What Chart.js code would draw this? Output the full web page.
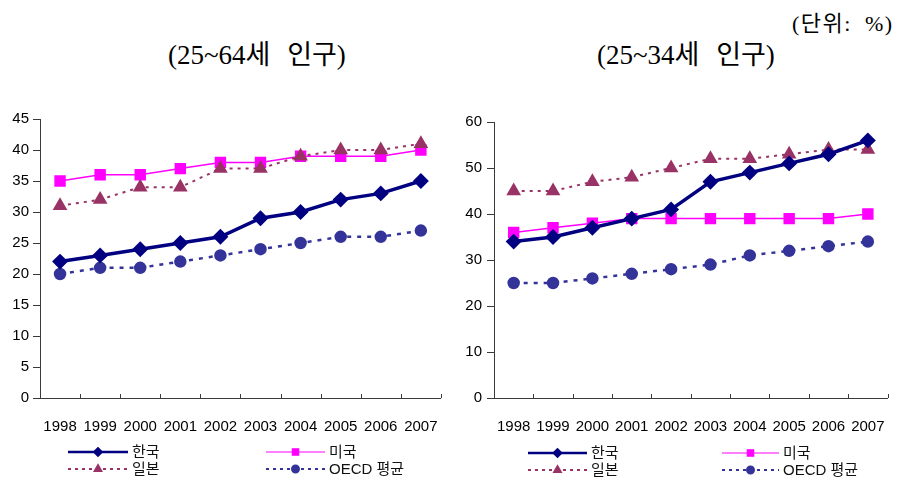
<!DOCTYPE html>
<html lang="ko">
<head>
<meta charset="utf-8">
<script src="https://cdn.jsdelivr.net/npm/chart.js@4.4.1/dist/chart.umd.min.js"></script>
<style>
  html, body { margin: 0; padding: 0; background: #fff; }
  #wrap { position: relative; width: 897px; height: 479px; overflow: hidden; }
  .title { position: absolute; font-family: "Liberation Serif", "Noto Sans CJK KR", serif; color: #000; white-space: nowrap; }
  canvas { position: absolute; }
</style>
</head>
<body>
<div id="wrap">
  <div class="title" id="unit" style="left:792px; top:5px; font-size:22px; letter-spacing:1.5px; word-spacing:6px;">(단위: %)</div>
  <div class="title" id="t1" style="left:168px; top:33px; font-size:27px; word-spacing:10px;">(25~64세 인구)</div>
  <div class="title" id="t2" style="left:597px; top:33px; font-size:27px; word-spacing:10px;">(25~34세 인구)</div>
  <canvas id="c1" width="450" height="379" style="left:0; top:100px;"></canvas>
  <canvas id="c2" width="447" height="379" style="left:450px; top:100px;"></canvas>
</div>
<script>
// Years on the category axis
const years = ['1998', '1999', '2000', '2001', '2002', '2003', '2004', '2005', '2006', '2007'];

// Series names
const seriesNames = ['한국', '미국', '일본', 'OECD 평균'];

// 25~64세 인구 (%)
const korea64 = [22, 23, 24, 25, 26, 29, 30, 32, 33, 35];
const usa64   = [35, 36, 36, 37, 38, 38, 39, 39, 39, 40];
const japan64 = [31, 32, 34, 34, 37, 37, 39, 40, 40, 41];
const oecd64  = [20, 21, 21, 22, 23, 24, 25, 26, 26, 27];

// 25~34세 인구 (%)
const korea34 = [34, 35, 37, 39, 41, 47, 49, 51, 53, 56];
const usa34   = [36, 37, 38, 39, 39, 39, 39, 39, 39, 40];
const japan34 = [45, 45, 47, 48, 50, 52, 52, 53, 54, 54];
const oecd34  = [25, 25, 26, 27, 28, 29, 31, 32, 33, 34];

// Y axis ranges
const yMax64 = 45, yStep64 = 5;
const yMax34 = 60, yStep34 = 10;

const FONT = '"Liberation Sans", Arial, "Noto Sans CJK KR", sans-serif';
const AXIS = '#3a3a3a';

function makeDatasets(k, u, j, o) {
  return [
    { label: seriesNames[0], data: k, borderColor: '#000080', backgroundColor: '#000080',
      borderWidth: 3.5, pointStyle: 'rectRot', pointRadius: 5.5, order: 1,
      legendLine: 2.5, legendRadius: 3.5 },
    { label: seriesNames[1], data: u, borderColor: '#FF00FF', backgroundColor: '#FF00FF',
      borderWidth: 1.5, pointStyle: 'rect', pointRadius: 7, order: 3,
      legendLine: 1.2, legendRadius: 4.5 },
    { label: seriesNames[2], data: j, borderColor: '#993366', backgroundColor: '#993366',
      borderWidth: 2, borderDash: [3, 5], pointStyle: 'triangle', pointRadius: 6.5, order: 2,
      legendLine: 1.8, legendRadius: 4 },
    { label: seriesNames[3], data: o, borderColor: '#333399', backgroundColor: '#333399',
      borderWidth: 2.5, borderDash: [4, 6], pointStyle: 'circle', pointRadius: 5, order: 4,
      legendLine: 2, legendRadius: 3.5 }
  ];
}

// Inward tick marks at category boundaries plus a two-row legend under the axis
const extras = {
  id: 'extras',
  afterDraw(chart, args, opts) {
    const ctx = chart.ctx;
    const x = chart.scales.x;
    const area = chart.chartArea;
    ctx.save();
    ctx.strokeStyle = AXIS;
    ctx.lineWidth = 1;
    const half = (x.getPixelForValue(1) - x.getPixelForValue(0)) / 2;
    for (let i = 0; i <= years.length; i++) {
      const px = Math.round(x.getPixelForValue(i) - half) + 0.5;
      ctx.beginPath();
      ctx.moveTo(px, area.bottom);
      ctx.lineTo(px, area.bottom - 4);
      ctx.stroke();
    }
    // legend rows
    const slots = opts.slots;
    chart.data.datasets.forEach((ds, i) => {
      const s = slots[i];
      ctx.save();
      ctx.strokeStyle = ds.borderColor;
      ctx.lineWidth = ds.legendLine;
      ctx.setLineDash(ds.borderDash ? [3, 4] : []);
      ctx.beginPath();
      ctx.moveTo(s.x0, s.y);
      ctx.lineTo(s.x1, s.y);
      ctx.stroke();
      ctx.setLineDash([]);
      ctx.fillStyle = ds.backgroundColor;
      ctx.strokeStyle = ds.backgroundColor;
      Chart.helpers.drawPoint(ctx, { pointStyle: ds.pointStyle, radius: ds.legendRadius, rotation: 0, borderWidth: 0.01 },
        (s.x0 + s.x1) / 2, s.y);
      ctx.restore();
      ctx.fillStyle = '#111';
      ctx.font = '15px ' + FONT;
      ctx.textBaseline = 'middle';
      ctx.textAlign = 'left';
      ctx.fillText(ds.label, s.x1 + 4, s.y + 1);
    });
    ctx.restore();
  }
};

function makeChart(id, datasets, yMax, yStep, yWidth, yPad, padRight, padTop, slots) {
  return new Chart(document.getElementById(id), {
    type: 'line',
    data: { labels: years, datasets },
    options: {
      responsive: false,
      animation: false,
      devicePixelRatio: 1,
      layout: { padding: { left: 0, right: padRight, top: padTop, bottom: 0 } },
      plugins: { legend: { display: false }, tooltip: { enabled: false }, extras: { slots } },
      elements: { line: { tension: 0 }, point: { borderWidth: 0, hoverRadius: 0 } },
      scales: {
        x: {
          offset: true,
          grid: { display: false, offset: true },
          border: { display: true, color: AXIS, width: 1 },
          ticks: { color: '#000', font: { family: FONT, size: 15 }, padding: 12, maxRotation: 0, autoSkip: false },
          afterFit(s) { s.height = 81; }
        },
        y: {
          min: 0, max: yMax,
          grid: { drawOnChartArea: false, drawTicks: true, tickLength: 7, color: AXIS },
          border: { display: true, color: AXIS, width: 1 },
          ticks: { stepSize: yStep, color: '#000', font: { family: FONT, size: 15 }, padding: yPad },
          afterFit(s) { s.width = yWidth; }
        }
      }
    },
    plugins: [extras]
  });
}

makeChart('c1', makeDatasets(korea64, usa64, japan64, oecd64), yMax64, yStep64, 40, 4, 2, 19, [
  { x0: 68, x1: 128, y: 352 },
  { x0: 266, x1: 325, y: 352 },
  { x0: 68, x1: 128, y: 369 },
  { x0: 266, x1: 325, y: 369 }
]);

makeChart('c2', makeDatasets(korea34, usa34, japan34, oecd34), yMax34, yStep34, 44, 5, 4, 22, [
  { x0: 78, x1: 137, y: 353 },
  { x0: 272, x1: 329, y: 353 },
  { x0: 78, x1: 137, y: 370 },
  { x0: 272, x1: 329, y: 370 }
]);
</script>
</body>
</html>
